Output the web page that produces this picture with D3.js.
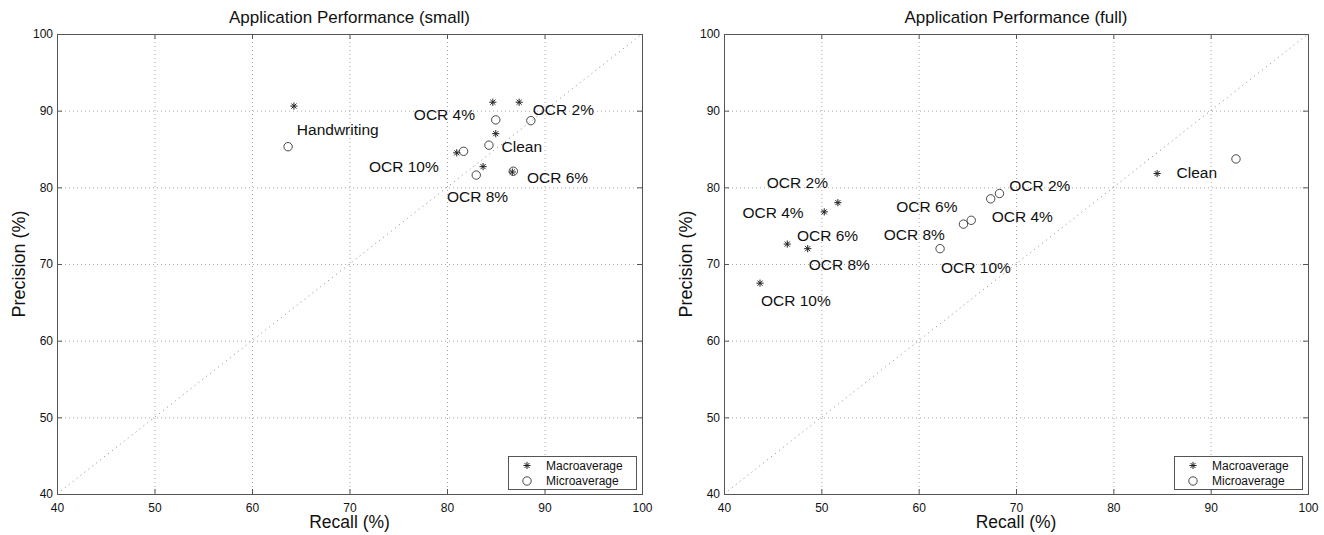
<!DOCTYPE html>
<html>
<head>
<meta charset="utf-8">
<script src="https://cdn.jsdelivr.net/npm/d3@7"></script>
<style>
  body { margin: 0; background: #fff; }
  svg text { font-family: "Liberation Sans", Arial, Helvetica, sans-serif; fill: #111; }
</style>
</head>
<body>
<svg id="chart" width="1324" height="535"></svg>
<script>
// Axis ticks (same for both panels)
var tickValues = [40, 50, 60, 70, 80, 90, 100];
var legendNames = ["Macroaverage", "Microaverage"];

// Small collection
var smallNames          = ["Clean", "OCR 2%", "OCR 4%", "OCR 6%", "OCR 8%", "OCR 10%", "Handwriting"];
var smallMacroRecall    = [85.0, 87.4, 84.7, 86.7, 83.7, 81.0, 64.3];
var smallMacroPrecision = [87.0, 91.1, 91.1, 82.0, 82.7, 84.5, 90.6];
var smallMicroRecall    = [84.3, 88.6, 85.0, 86.8, 83.0, 81.7, 63.7];
var smallMicroPrecision = [85.5, 88.7, 88.8, 82.1, 81.6, 84.7, 85.3];
// where the text labels sit, in data units (recall, precision)
var smallLabelText = ["Clean", "OCR 2%", "OCR 4%", "OCR 6%", "OCR 8%", "OCR 10%", "Handwriting"];
var smallLabelX    = [85.6, 88.8, 76.6, 88.2, 80.0, 72.0, 64.6];
var smallLabelY    = [85.4, 90.1, 89.5, 81.3, 78.8, 82.7, 87.5];

// Full collection
var fullNames          = ["Clean", "OCR 2%", "OCR 4%", "OCR 6%", "OCR 8%", "OCR 10%"];
var fullMacroRecall    = [84.5, 51.7, 50.3, 46.5, 48.6, 43.7];
var fullMacroPrecision = [81.8, 78.0, 76.8, 72.6, 72.0, 67.5];
var fullMicroRecall    = [92.6, 68.3, 67.4, 65.4, 64.6, 62.2];
var fullMicroPrecision = [83.7, 79.2, 78.5, 75.7, 75.2, 72.0];
var fullLabelText = ["Clean", "OCR 2%", "OCR 4%", "OCR 6%", "OCR 8%", "OCR 10%",
                     "OCR 2%", "OCR 4%", "OCR 6%", "OCR 8%", "OCR 10%"];
var fullLabelX    = [86.5, 44.4, 41.9, 47.5, 48.7, 43.8, 69.3, 67.5, 57.7, 56.4, 62.3];
var fullLabelY    = [81.9, 80.6, 76.7, 73.7, 69.9, 65.3, 80.3, 76.2, 77.5, 73.9, 69.6];

var svg = d3.select("#chart");
svg.append("rect").attr("width", 1324).attr("height", 535).attr("fill", "#fff");

function zip(xs, ys) {
    return xs.map(function(v, i) { return [v, ys[i]]; });
}

function starPath(r) {
    var a = r * 0.7071;
    return "M" + (-r) + ",0H" + r + "M0," + (-r) + "V" + r +
           "M" + (-a) + "," + (-a) + "L" + a + "," + a +
           "M" + (-a) + "," + a + "L" + a + "," + (-a);
}

function drawPlot(left, width, title, macro, micro, labelText, labelX, labelY) {
    var top = 34, height = 460;
    var x = d3.scaleLinear().domain([40, 100]).range([0, width]);
    var y = d3.scaleLinear().domain([40, 100]).range([height, 0]);

    var g = svg.append("g").attr("transform", "translate(" + left + "," + top + ")");

    // Dotted grid
    var inner = tickValues.slice(1, -1);
    g.append("g").selectAll("line").data(inner).enter().append("line")
        .attr("x1", function(d) { return x(d) + 0.5; })
        .attr("x2", function(d) { return x(d) + 0.5; })
        .attr("y1", 0).attr("y2", height)
        .attr("stroke", "#aaa").attr("stroke-dasharray", "1,3");
    g.append("g").selectAll("line").data(inner).enter().append("line")
        .attr("y1", function(d) { return y(d) + 0.5; })
        .attr("y2", function(d) { return y(d) + 0.5; })
        .attr("x1", 0).attr("x2", width)
        .attr("stroke", "#aaa").attr("stroke-dasharray", "1,3");

    // Diagonal precision = recall
    g.append("line")
        .attr("x1", x(40)).attr("y1", y(40))
        .attr("x2", x(100)).attr("y2", y(100))
        .attr("stroke", "#888").attr("stroke-dasharray", "1,4");

    // Axes, ticks pointing inward
    g.append("g").attr("transform", "translate(0," + height + ")")
        .call(d3.axisBottom(x).tickValues(tickValues).tickSize(-5).tickSizeOuter(0).tickPadding(9));
    g.append("g")
        .call(d3.axisLeft(y).tickValues(tickValues).tickSize(-5).tickSizeOuter(0).tickPadding(4));
    g.append("g")
        .call(d3.axisTop(x).tickValues(tickValues).tickSize(-5).tickSizeOuter(0).tickFormat(""));
    g.append("g").attr("transform", "translate(" + width + ",0)")
        .call(d3.axisRight(y).tickValues(tickValues).tickSize(-5).tickSizeOuter(0).tickFormat(""));
    g.selectAll(".domain").remove();
    g.selectAll(".tick line").attr("stroke", "#555");
    g.selectAll(".tick text").style("font-size", "12px").attr("fill", "#111")
        .style("font-family", "'Liberation Sans', Arial, sans-serif");

    // Box
    g.append("rect")
        .attr("x", 0.5).attr("y", 0.5)
        .attr("width", width).attr("height", height)
        .attr("fill", "none").attr("stroke", "#555");

    // Macroaverage stars
    g.append("g").selectAll("path").data(macro).enter().append("path")
        .attr("transform", function(d) { return "translate(" + x(d[0]) + "," + y(d[1]) + ")"; })
        .attr("d", starPath(3.6))
        .attr("stroke", "#222").attr("stroke-width", 1).attr("fill", "none");

    // Microaverage circles
    g.append("g").selectAll("circle").data(micro).enter().append("circle")
        .attr("cx", function(d) { return x(d[0]); })
        .attr("cy", function(d) { return y(d[1]); })
        .attr("r", 4.2)
        .attr("stroke", "#333").attr("stroke-width", 0.9).attr("fill", "none");

    // Point labels
    g.append("g").selectAll("text").data(labelText).enter().append("text")
        .attr("x", function(d, i) { return x(labelX[i]); })
        .attr("y", function(d, i) { return y(labelY[i]); })
        .attr("dy", "0.36em")
        .style("font-size", "15.5px")
        .text(function(d) { return d; });

    // Title and axis labels
    g.append("text")
        .attr("x", width / 2).attr("y", -11)
        .style("text-anchor", "middle").style("font-size", "17px")
        .text(title);
    g.append("text")
        .attr("x", width / 2).attr("y", height + 34)
        .style("text-anchor", "middle").style("font-size", "17.5px")
        .text("Recall (%)");
    g.append("text")
        .attr("transform", "rotate(-90)")
        .attr("x", -height / 2).attr("y", -32)
        .style("text-anchor", "middle").style("font-size", "18px")
        .text("Precision (%)");

    // Legend
    var lw = 128, lh = 33;
    var lg = g.append("g").attr("transform", "translate(" + (width - lw - 6) + "," + (height - lh - 5) + ")");
    lg.append("rect").attr("x", 0.5).attr("y", 0.5).attr("width", lw).attr("height", lh)
        .attr("fill", "#fff").attr("stroke", "#555");
    lg.append("path").attr("transform", "translate(19,9.5)").attr("d", starPath(3.6))
        .attr("stroke", "#222").attr("fill", "none");
    lg.append("circle").attr("cx", 19).attr("cy", 25).attr("r", 4.2)
        .attr("stroke", "#333").attr("stroke-width", 0.9).attr("fill", "none");
    lg.selectAll("text.leg").data(legendNames).enter().append("text")
        .attr("class", "leg")
        .attr("x", 38).attr("y", function(d, i) { return 9.5 + i * 15.5; })
        .attr("dy", "0.36em")
        .style("font-size", "12px")
        .text(function(d) { return d; });
}

drawPlot(57, 585, "Application Performance (small)",
    zip(smallMacroRecall, smallMacroPrecision), zip(smallMicroRecall, smallMicroPrecision),
    smallLabelText, smallLabelX, smallLabelY);

drawPlot(724, 584, "Application Performance (full)",
    zip(fullMacroRecall, fullMacroPrecision), zip(fullMicroRecall, fullMicroPrecision),
    fullLabelText, fullLabelX, fullLabelY);
</script>
</body>
</html>
